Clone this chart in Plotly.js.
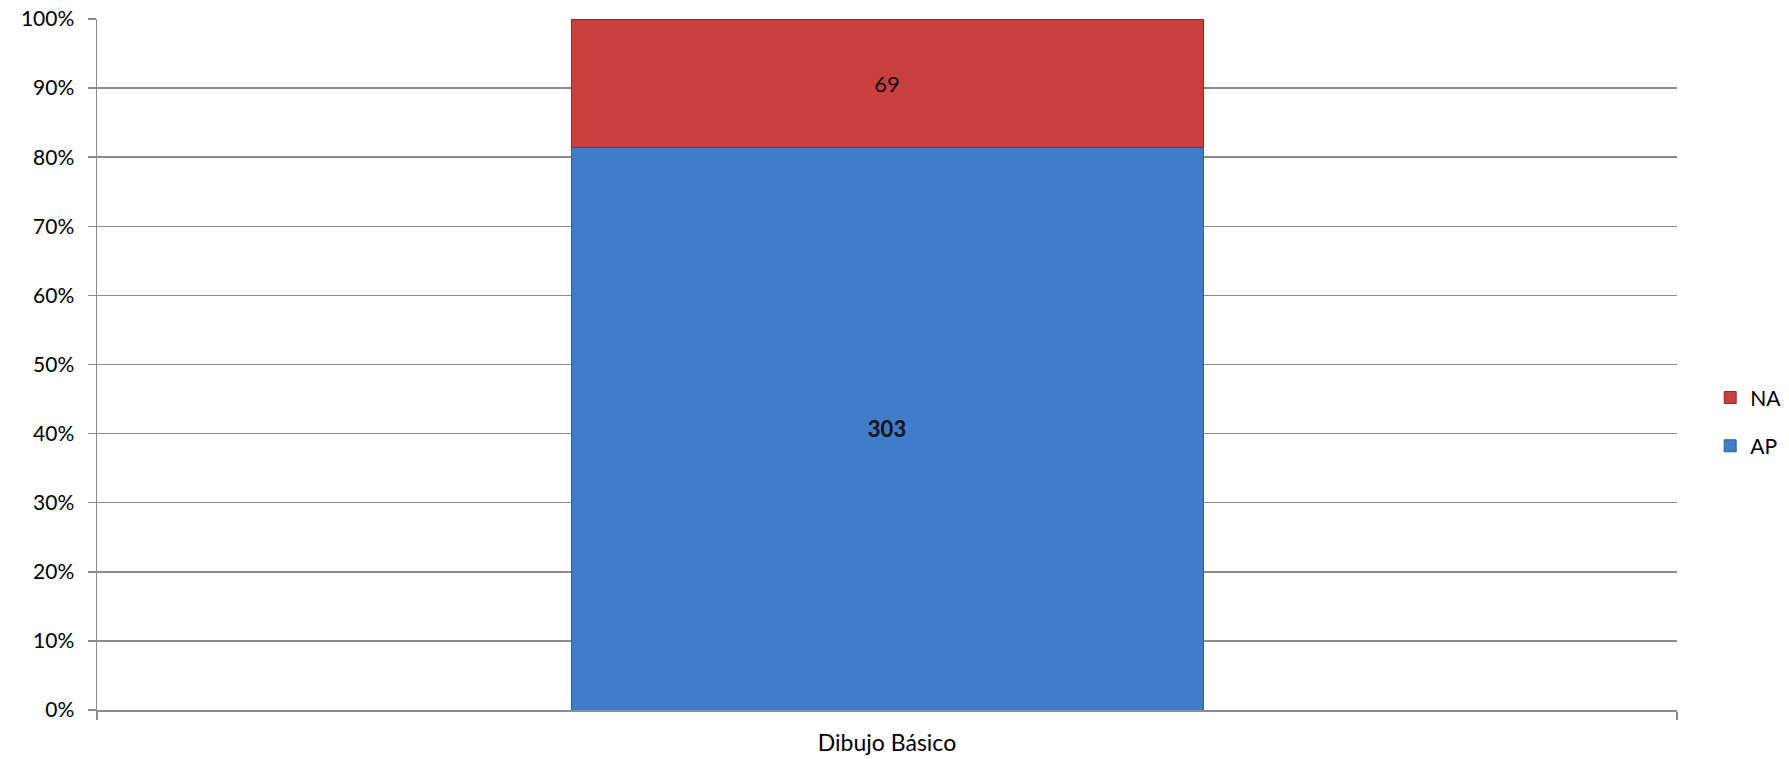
<!DOCTYPE html>
<html>
<head>
<meta charset="utf-8">
<script src="https://cdn.plot.ly/plotly-3.0.1.min.js"></script>
<style>html,body{margin:0;padding:0;background:#fff;}#chart{width:1789px;height:759px;}</style>
</head>
<body>
<div id="chart"></div>
<script>
const categories = ['Dibujo Básico'];
const seriesNames = ['AP', 'NA'];
const apValues = [303];
const naValues = [69];
const yTickVals = [0,10,20,30,40,50,60,70,80,90,100];

const font = 'Lato, "Open Sans", "DejaVu Sans", sans-serif';

const traces = [
  {
    type: 'bar', name: seriesNames[0], x: categories, y: apValues,
    text: apValues.map(v => '<b>' + v + '</b>'), textposition: 'inside',
    insidetextanchor: 'middle', textangle: 0,
    textfont: {family: font, size: 22, color: '#111'},
    marker: {color: '#3F7CC9', line: {color: '#2F5E99', width: 1}},
    legendgroup: 'ap', legendrank: 2, hoverinfo: 'skip'
  },
  {
    type: 'bar', name: seriesNames[1], x: categories, y: naValues,
    text: naValues.map(v => String(v)), textposition: 'inside',
    insidetextanchor: 'middle', textangle: 0,
    textfont: {family: font, size: 22, color: '#111'},
    marker: {color: '#C93F3D', line: {color: '#8E2B29', width: 1}},
    legendgroup: 'na', legendrank: 1, hoverinfo: 'skip'
  }
];

const layout = {
  width: 1789, height: 759,
  margin: {l: 97, r: 112, t: 19, b: 49, autoexpand: false},
  paper_bgcolor: '#fff', plot_bgcolor: '#fff',
  barmode: 'stack', barnorm: 'percent', bargap: 0.6,
  font: {family: font, size: 20, color: '#000'},
  showlegend: true,
  legend: {
    x: 1.021, xanchor: 'left', y: 0.417, yanchor: 'middle',
    traceorder: 'grouped', tracegroupgap: 18,
    font: {family: font, size: 21, color: '#000'},
    itemwidth: 30
  },
  xaxis: {
    type: 'category', showgrid: false, showline: true, linecolor: '#8c8c8c', linewidth: 1.5,
    ticks: 'outside', tickson: 'boundaries', ticklen: 8, tickcolor: '#8c8c8c', tickwidth: 1.5,
    ticklabelstandoff: 12,
    tickfont: {family: font, size: 23, color: '#000'}, fixedrange: true
  },
  yaxis: {
    range: [0, 100], tickvals: yTickVals, ticktext: yTickVals.map(v => v + '%'),
    showgrid: true, gridcolor: '#8c8c8c', gridwidth: 1.5,
    showline: true, linecolor: '#8c8c8c', linewidth: 1.5,
    ticks: 'outside', ticklen: 8, tickcolor: '#8c8c8c', tickwidth: 1.5,
    ticklabelstandoff: 9,
    tickfont: {family: font, size: 21, color: '#000'}, zeroline: false, fixedrange: true
  }
};

Plotly.newPlot('chart', traces, layout, {displayModeBar: false, staticPlot: true});
</script>
</body>
</html>
